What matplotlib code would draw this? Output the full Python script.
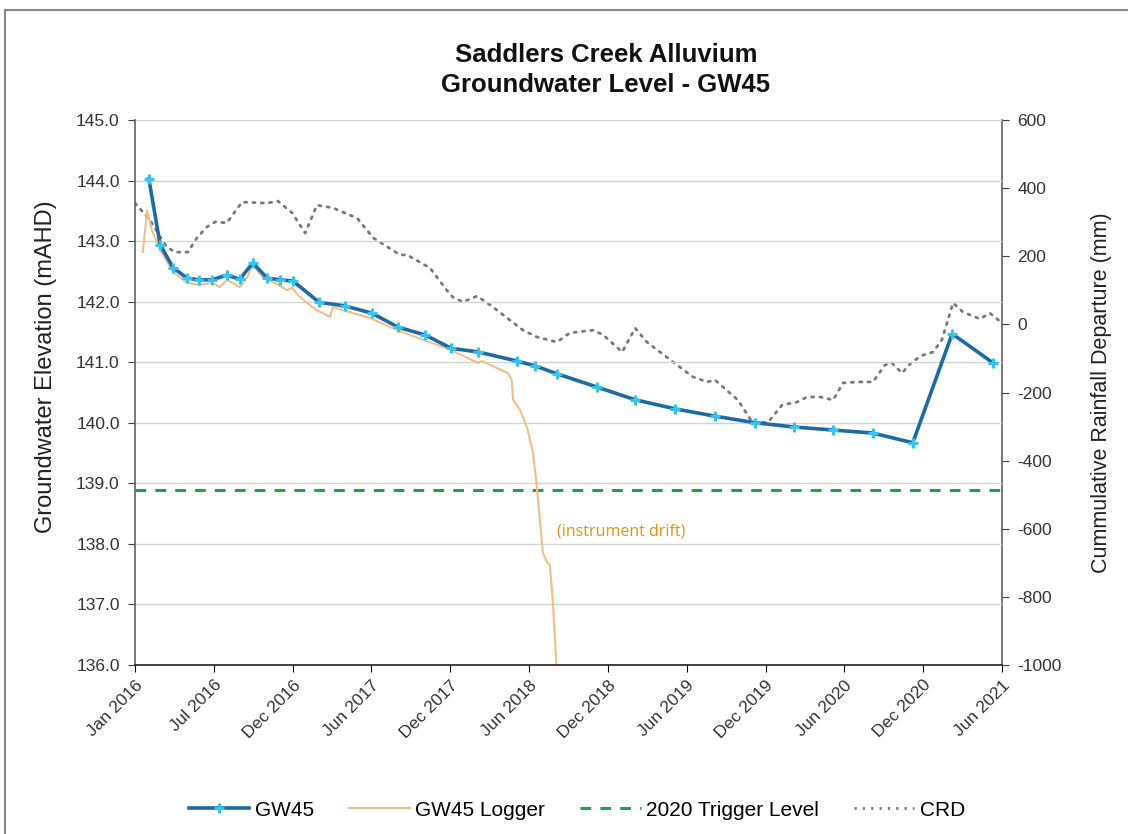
import numpy as np
import pandas as pd
import matplotlib
matplotlib.use("Agg")
import matplotlib.pyplot as plt
import matplotlib.dates as mdates
from matplotlib.lines import Line2D

plt.rcParams['font.family'] = ['Liberation Sans', 'DejaVu Sans']

# ---------------- data ----------------
gw45_dates = ["2016-02-02", "2016-02-28", "2016-03-29", "2016-04-30", "2016-05-28", "2016-06-27",
              "2016-07-31", "2016-08-30", "2016-09-29", "2016-11-01", "2016-12-01", "2016-12-31",
              "2017-03-01", "2017-04-30", "2017-07-01", "2017-08-30", "2017-11-01", "2017-12-31",
              "2018-03-03", "2018-06-01", "2018-07-13", "2018-09-01", "2018-12-03", "2019-03-01",
              "2019-06-01", "2019-09-01", "2019-12-03", "2020-03-02", "2020-05-31", "2020-08-31",
              "2020-12-01", "2021-03-02", "2021-06-04"]
gw45_values = [144.03, 142.94, 142.56, 142.39, 142.36, 142.36,
               142.44, 142.37, 142.64, 142.39, 142.36, 142.34,
               141.99, 141.93, 141.81, 141.58, 141.45, 141.23,
               141.17, 141.02, 140.94, 140.81, 140.59, 140.38,
               140.23, 140.11, 140.00, 139.93, 139.88, 139.83,
               139.67, 141.47, 140.99]

logger_dates = ["2016-01-19", "2016-01-29", "2016-02-09", "2016-02-28", "2016-03-29", "2016-04-30",
                "2016-05-30", "2016-06-29", "2016-07-15", "2016-07-31", "2016-08-30", "2016-09-16",
                "2016-09-29", "2016-10-23", "2016-11-24", "2016-12-17", "2016-12-29", "2017-01-11",
                "2017-02-08", "2017-02-24", "2017-03-26", "2017-04-02", "2017-04-25", "2017-06-27",
                "2017-08-28", "2017-10-27", "2017-12-21", "2018-03-03", "2018-03-12", "2018-05-11",
                "2018-05-20", "2018-05-23", "2018-06-08", "2018-06-24", "2018-07-08", "2018-07-17",
                "2018-07-24", "2018-07-31", "2018-08-09", "2018-08-16", "2018-08-23", "2018-09-01"]
logger_values = [142.82, 143.51, 143.18, 142.85, 142.49, 142.31,
                 142.28, 142.31, 142.24, 142.36, 142.24, 142.40,
                 142.61, 142.39, 142.29, 142.19, 142.23, 142.11,
                 141.94, 141.86, 141.75, 141.91, 141.86, 141.73,
                 141.53, 141.37, 141.23, 140.99, 141.02, 140.82,
                 140.71, 140.38, 140.21, 139.93, 139.50, 138.94,
                 138.39, 137.85, 137.70, 137.65, 137.02, 135.90]

trigger_level = 138.89

crd_dates = ["2016-01-01", "2016-01-19", "2016-02-05", "2016-02-28", "2016-03-15", "2016-04-02",
             "2016-05-02", "2016-05-23", "2016-06-15", "2016-07-04", "2016-07-31", "2016-09-04",
             "2016-11-01", "2016-11-26", "2016-12-29", "2017-01-28", "2017-02-24", "2017-04-02",
             "2017-05-28", "2017-07-04", "2017-09-04", "2017-09-20", "2017-11-12", "2017-12-24",
             "2018-01-04", "2018-01-27", "2018-03-01", "2018-03-31", "2018-06-15", "2018-07-17",
             "2018-09-01", "2018-10-01", "2018-11-24", "2018-12-17", "2019-01-30", "2019-03-01",
             "2019-03-28", "2019-05-27", "2019-07-12", "2019-08-14", "2019-09-01", "2019-10-24",
             "2019-11-28", "2020-01-02", "2020-02-03", "2020-03-09", "2020-04-01", "2020-05-01",
             "2020-05-31", "2020-06-23", "2020-07-25", "2020-08-31", "2020-09-28", "2020-10-14",
             "2020-11-06", "2020-11-29", "2020-12-25", "2021-01-17", "2021-02-06", "2021-03-04",
             "2021-03-27", "2021-05-05", "2021-05-28", "2021-06-25"]
crd_values = [356, 330, 306, 257, 227, 212,
              212, 254, 286, 301, 298, 359,
              356, 362, 327, 268, 350, 342,
              312, 254, 204, 204, 166, 95,
              80, 66, 83, 57, -17, -37,
              -52, -25, -17, -31, -81, -11,
              -52, -110, -154, -169, -163, -222,
              -290, -287, -237, -228, -213, -213,
              -222, -172, -169, -169, -119, -113,
              -143, -110, -90, -81, -46, 63,
              36, 16, 33, 4]

x_start = "2016-01-01"
x_tick_step_days = 182
n_x_ticks = 12
left_ticks = [136.0, 137.0, 138.0, 139.0, 140.0, 141.0, 142.0, 143.0, 144.0, 145.0]
right_ticks = [-1000, -800, -600, -400, -200, 0, 200, 400, 600]

# ---------------- figure ----------------
W, H = 1128, 834
fig = plt.figure(figsize=(W / 100, H / 100), dpi=100)
fig.patch.set_facecolor('white')

def fx(px):
    return px / W

def fy(py):
    return 1 - py / H

ax = fig.add_axes([fx(135), fy(665), fx(1002) - fx(135), fy(120) - fy(665)])
ax2 = ax.twinx()
ax.set_zorder(ax2.get_zorder() + 1)
ax.patch.set_visible(False)

gd = pd.to_datetime(gw45_dates)
ld = pd.to_datetime(logger_dates)
cd = pd.to_datetime(crd_dates)
start = pd.Timestamp(x_start)
ticks = [start + pd.Timedelta(days=x_tick_step_days * k) for k in range(n_x_ticks)]

# CRD on right axis
ax2.plot(cd, crd_values, color='#7a7a7a', lw=2.0, linestyle=(0, (0.8, 2.2)),
         dash_capstyle='round', solid_capstyle='round')

# trigger, logger, GW45 on left axis
ax.axhline(trigger_level, color='#21A050', lw=2.2, linestyle=(0, (3.5, 3.0)))
ax.plot(ld, logger_values, color='#F2BE8A', lw=1.5)
ax.plot(gd, gw45_values, color='#1D6AA5', lw=2.6, marker='+', markersize=6.5,
        markeredgewidth=2.2, markeredgecolor='#35C5EC', zorder=5)

ax.text(pd.Timestamp("2018-09-01"), 138.21, "(instrument drift)", color='#E8930F',
        fontsize=11.5, family=['Open Sans', 'DejaVu Sans'], va='center', ha='left')

# axes limits and ticks
ax.set_xlim(start, ticks[-1])
ax.set_ylim(136, 145)
ax2.set_ylim(-1000, 600)
ax.set_yticks(left_ticks)
ax.set_yticklabels([f"{v:.1f}" for v in left_ticks])
ax2.set_yticks(right_ticks)
ax2.set_yticklabels([str(v) for v in right_ticks])
ax.set_xticks(ticks)
ax.set_xticklabels([t.strftime("%b %Y") for t in ticks], rotation=45, ha='right',
                   rotation_mode='anchor')

ax.grid(axis='y', color='#d4d4d4', lw=1.0)
ax.set_axisbelow(True)

for a in (ax, ax2):
    a.spines['top'].set_visible(False)
ax.spines['right'].set_visible(False)
ax.spines['left'].set_color('#606060')
ax.spines['bottom'].set_color('#202020')
ax2.spines['left'].set_visible(False)
ax2.spines['bottom'].set_visible(False)
ax2.spines['right'].set_color('#606060')
for s in ('left', 'bottom'):
    ax.spines[s].set_linewidth(1.2)
ax2.spines['right'].set_linewidth(1.2)

ax.tick_params(axis='y', labelsize=12.5, colors='#404040', direction='out', length=5,
               labelcolor='#333333', pad=6)
ax.tick_params(axis='x', labelsize=12.5, direction='out', length=5, labelcolor='#333333',
               pad=4)
ax2.tick_params(axis='y', labelsize=12.5, colors='#404040', direction='out', length=5,
                labelcolor='#333333', pad=6)

ax.set_ylabel("Groundwater Elevation (mAHD)", fontsize=17, color='#222222')
ax.yaxis.set_label_coords(-(135 - 57) / 867, (665 - 367) / 545)
ax2.set_ylabel("Cummulative Rainfall Departure (mm)", fontsize=15.5, color='#222222')
ax2.yaxis.set_label_coords(1 + (1091 - 1002) / 867, (665 - 393) / 545)

# title
fig.text(fx(606), fy(70), "Saddlers Creek Alluvium\nGroundwater Level - GW45",
         ha='center', va='center', fontsize=18.5, fontweight='bold', color='#111111',
         linespacing=1.3)

# legend
handles = [
    Line2D([], [], color='#1D6AA5', lw=2.6, marker='+', markersize=6.5, markeredgewidth=2.2,
           markeredgecolor='#35C5EC'),
    Line2D([], [], color='#F2BE8A', lw=1.5),
    Line2D([], [], color='#21A050', lw=2.2, linestyle=(0, (3.5, 3.0))),
    Line2D([], [], color='#7a7a7a', lw=2.0, linestyle=(0, (0.8, 2.2))),
]
labels = ["GW45", "GW45 Logger", "2020 Trigger Level", "CRD"]
fig.legend(handles, labels, loc='center', bbox_to_anchor=(fx(577), fy(810)), ncol=4,
           frameon=False, fontsize=15, handlelength=2.9, columnspacing=1.7,
           handletextpad=0.25)

# outer chart border
fig.add_artist(Line2D([fx(5), 1.0], [fy(10), fy(10)], color='#8a8a8a', lw=1.5,
                      transform=fig.transFigure))
fig.add_artist(Line2D([fx(5), fx(5)], [fy(10), 0.0], color='#8a8a8a', lw=1.5,
                      transform=fig.transFigure))

fig.savefig("out.png", dpi=100, facecolor='white')
